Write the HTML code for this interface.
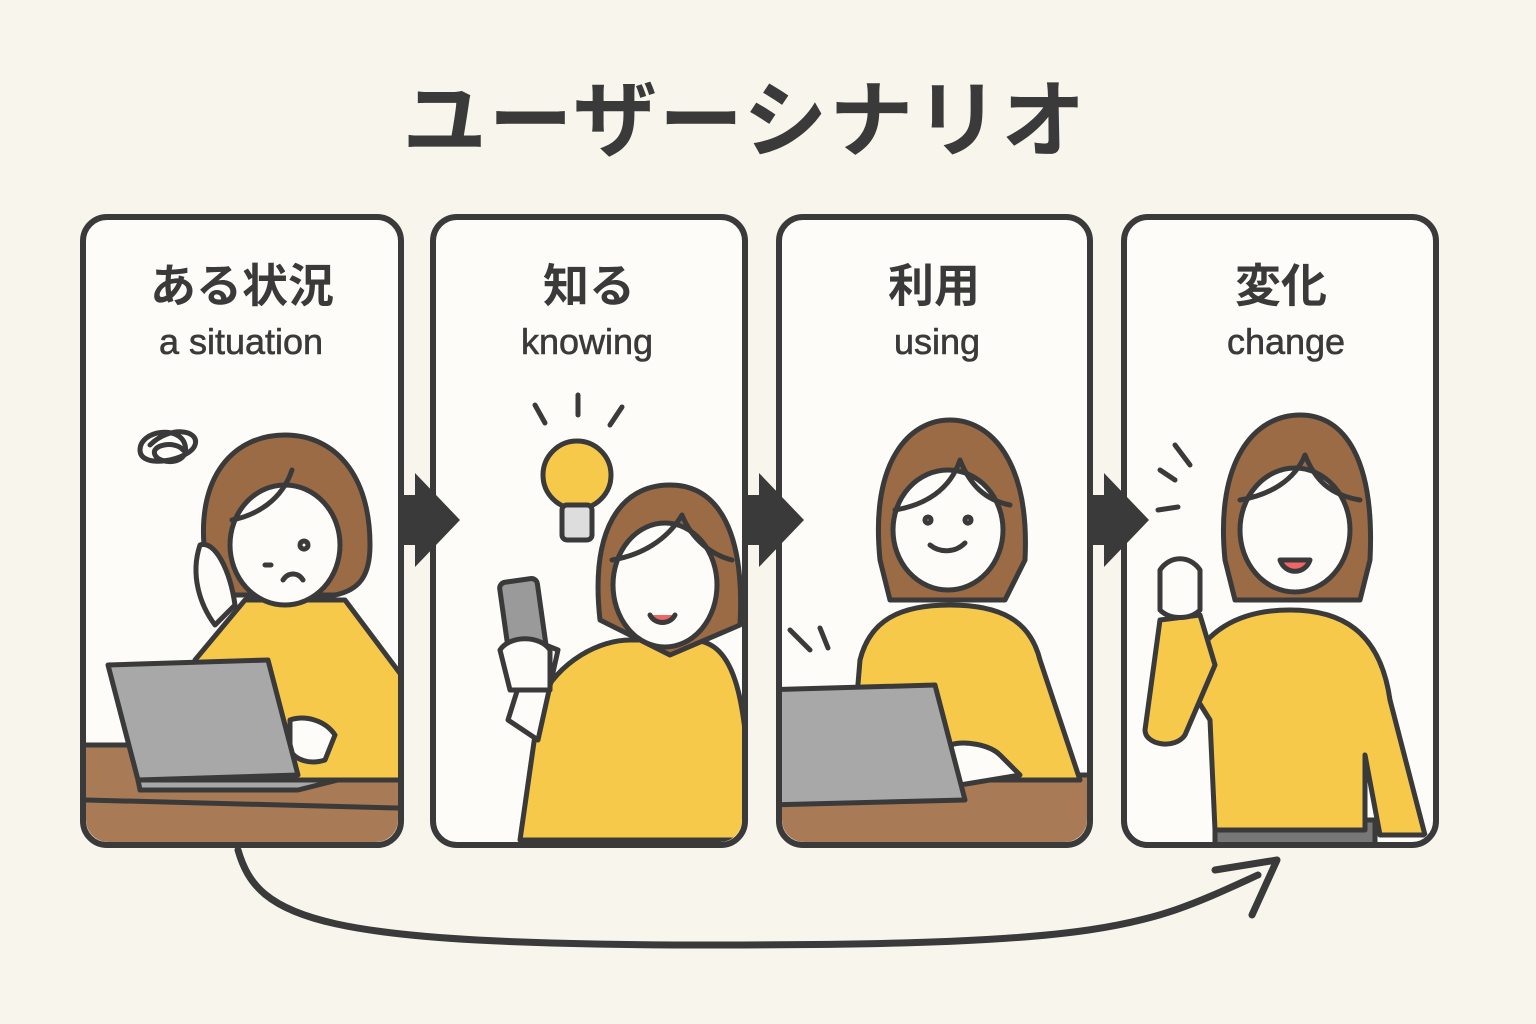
<!DOCTYPE html>
<html><head><meta charset="utf-8"><style>
html,body{margin:0;padding:0;background:#f8f5ec;}
svg{display:block}
</style></head><body>
<svg width="1536" height="1024" viewBox="0 0 1536 1024" xmlns="http://www.w3.org/2000/svg" font-family="'Liberation Sans','Noto Sans CJK JP',sans-serif">
<rect width="1536" height="1024" fill="#f8f5ec"/>
<text x="745" y="150" text-anchor="middle" font-size="84" font-weight="bold" fill="#3a3a3a" letter-spacing="2" font-family="'Noto Sans CJK JP',sans-serif">ユーザーシナリオ</text>
<defs>
<clipPath id="c1"><rect x="86" y="220" width="312" height="622" rx="22"/></clipPath>
<clipPath id="c2"><rect x="436" y="220" width="306" height="622" rx="22"/></clipPath>
<clipPath id="c3"><rect x="782" y="220" width="305" height="622" rx="22"/></clipPath>
<clipPath id="c4"><rect x="1127" y="220" width="306" height="622" rx="22"/></clipPath>
</defs>
<g stroke="#3a3a3a" stroke-width="6" fill="#fdfcf8">
<rect x="83" y="217" width="318" height="628" rx="24"/>
<rect x="433" y="217" width="312" height="628" rx="24"/>
<rect x="779" y="217" width="311" height="628" rx="24"/>
<rect x="1124" y="217" width="312" height="628" rx="24"/>
</g>
<g fill="#3a3a3a" font-family="'Noto Sans CJK JP',sans-serif" text-anchor="middle">
<text x="242" y="302" font-size="46" font-weight="bold">ある状況</text>
<text x="589" y="302" font-size="46" font-weight="bold">知る</text>
<text x="934" y="302" font-size="46" font-weight="bold">利用</text>
<text x="1281" y="302" font-size="46" font-weight="bold">変化</text>
</g>
<g fill="#3a3a3a" font-size="36" text-anchor="middle" stroke="#3a3a3a" stroke-width="0.6">
<text x="241" y="354">a situation</text>
<text x="587" y="354">knowing</text>
<text x="937" y="354">using</text>
<text x="1286" y="354">change</text>
</g>
<g stroke="#3a3a3a" stroke-width="5" stroke-linejoin="round" stroke-linecap="round">
<!-- panel 1 -->
<g clip-path="url(#c1)">
<path d="M150 445c20-20 50-15 45 0s-55 25-55 5 40-25 45-5-25 20-30 10 20-15 28-5" fill="none"/>
<rect x="60" y="745" width="360" height="100" fill="#a87a55"/>
<line x1="86" y1="800" x2="398" y2="808"/>
<path d="M195 660l50-60h100l60 80v100H190z" fill="#f7c94b"/>
<path d="M205 555c-10-80 30-120 80-120s85 40 85 110c0 30-10 45-35 50H220c-15 0-15-20-15-40z" fill="#9b6b45"/>
<ellipse cx="285" cy="545" rx="55" ry="60" fill="#fdfcf8"/>
<path d="M232 520c25-5 50-20 60-50" fill="none"/>
<path d="M200 545c15-5 30 25 35 60l-20 20c-15-20-25-50-15-80z" fill="#fdfcf8"/>
<path d="M265 565l6 0M300 545a4 4 0 1 1 0 .1M283 580c5-8 15-8 20 0" fill="none"/>
<path d="M290 720c15-5 35 0 45 15l-10 25c-15 5-30 0-35-10z" fill="#fdfcf8"/>
<path d="M108 665l160 -5 30 115-160 5z" fill="#a8a8a8"/>
<path d="M138 780h200l-40 10H140z" fill="#a8a8a8"/>
</g>
<!-- panel 2 -->
<g clip-path="url(#c2)">
<path d="M535 405l10 18M578 395v20M622 407l-12 18" fill="none"/>
<circle cx="577" cy="475" r="34" fill="#f7c94b"/>
<rect x="562" y="505" width="30" height="35" rx="5" fill="#ddd"/>
<path d="M540 700c20-40 60-60 90-60h60c40 0 60 40 60 200H520z" fill="#f7c94b"/>
<path d="M600 620c-10-90 20-135 70-135s75 50 70 140l-70 30z" fill="#9b6b45"/>
<ellipse cx="665" cy="585" rx="52" ry="62" fill="#fdfcf8"/>
<path d="M612 560c30-5 55-20 70-45 10 25 30 40 50 45" fill="none"/>
<path d="M650 615c5 10 20 10 25 0" fill="#e66"/>
<path d="M508 720l25-80 25 10-20 90z" fill="#fdfcf8"/>
<rect x="505" y="580" width="38" height="90" rx="6" transform="rotate(-8 524 625)" fill="#9a9a9a"/>
<path d="M500 650c10-15 40-15 50 0v40l-40 0z" fill="#fdfcf8"/>
</g>
<!-- panel 3 -->
<g clip-path="url(#c3)">
<rect x="760" y="775" width="340" height="80" fill="#a87a55"/>
<path d="M860 660c10-40 40-55 90-55s80 15 90 55l40 120H850z" fill="#f7c94b"/>
<path d="M880 560c-10-100 30-140 70-140s80 40 75 140l-20 40H890z" fill="#9b6b45"/>
<ellipse cx="948" cy="530" rx="55" ry="60" fill="#fdfcf8"/>
<path d="M895 510c30-5 55-20 65-50 10 25 25 40 50 45" fill="none"/>
<path d="M930 545c10 8 25 8 35-2M925 520a3 3 0 1 1 0 .1M965 520a3 3 0 1 1 0 .1" fill="none"/>
<path d="M950 745c15-5 40 0 50 10l20 20-60 10z" fill="#fdfcf8"/>
<path d="M760 690l175-5 30 115-200 5z" fill="#a8a8a8"/>
<path d="M790 630l20 20M820 628l8 20" fill="none"/>
</g>
<!-- panel 4 -->
<g clip-path="url(#c4)">
<path d="M1160 470l15 10M1175 445l15 20M1158 510l20-3" fill="none"/>
<rect x="1215" y="820" width="160" height="40" fill="#777"/>
<path d="M1185 680c15-50 55-70 105-70s90 20 100 90l35 135h-45l-15-80v75h-150l-5-110z" fill="#f7c94b"/>
<path d="M1160 620l-15 110c0 15 30 20 40 5l30-70-15-50z" fill="#f7c94b"/>
<path d="M1225 560c-10-100 30-145 75-145s75 45 70 145l-10 40H1235z" fill="#9b6b45"/>
<ellipse cx="1295" cy="530" rx="55" ry="62" fill="#fdfcf8"/>
<path d="M1240 500c30-5 55-20 65-45 10 25 25 40 55 45" fill="none"/>
<path d="M1280 560c5 15 25 15 30 0z" fill="#e66"/>
<path d="M1160 570c10-15 30-15 40 0v40c-10 10-30 10-40 0z" fill="#fdfcf8"/>
</g>
</g>
<g fill="#3a3a3a">
<path d="M401 495h14v-22l45 47-45 47v-22h-14z"/>
<path d="M745 495h14v-22l45 47-45 47v-22h-14z"/>
<path d="M1090 495h14v-22l45 47-45 47v-22h-14z"/>
</g>
<path d="M238 850c20 70 80 95 480 95s430-20 540-70" fill="none" stroke="#3a3a3a" stroke-width="7" stroke-linecap="round"/>
<path d="M1215 870l62-10-25 55" fill="none" stroke="#3a3a3a" stroke-width="7" stroke-linecap="round" stroke-linejoin="round"/>
</svg>
</body></html>
